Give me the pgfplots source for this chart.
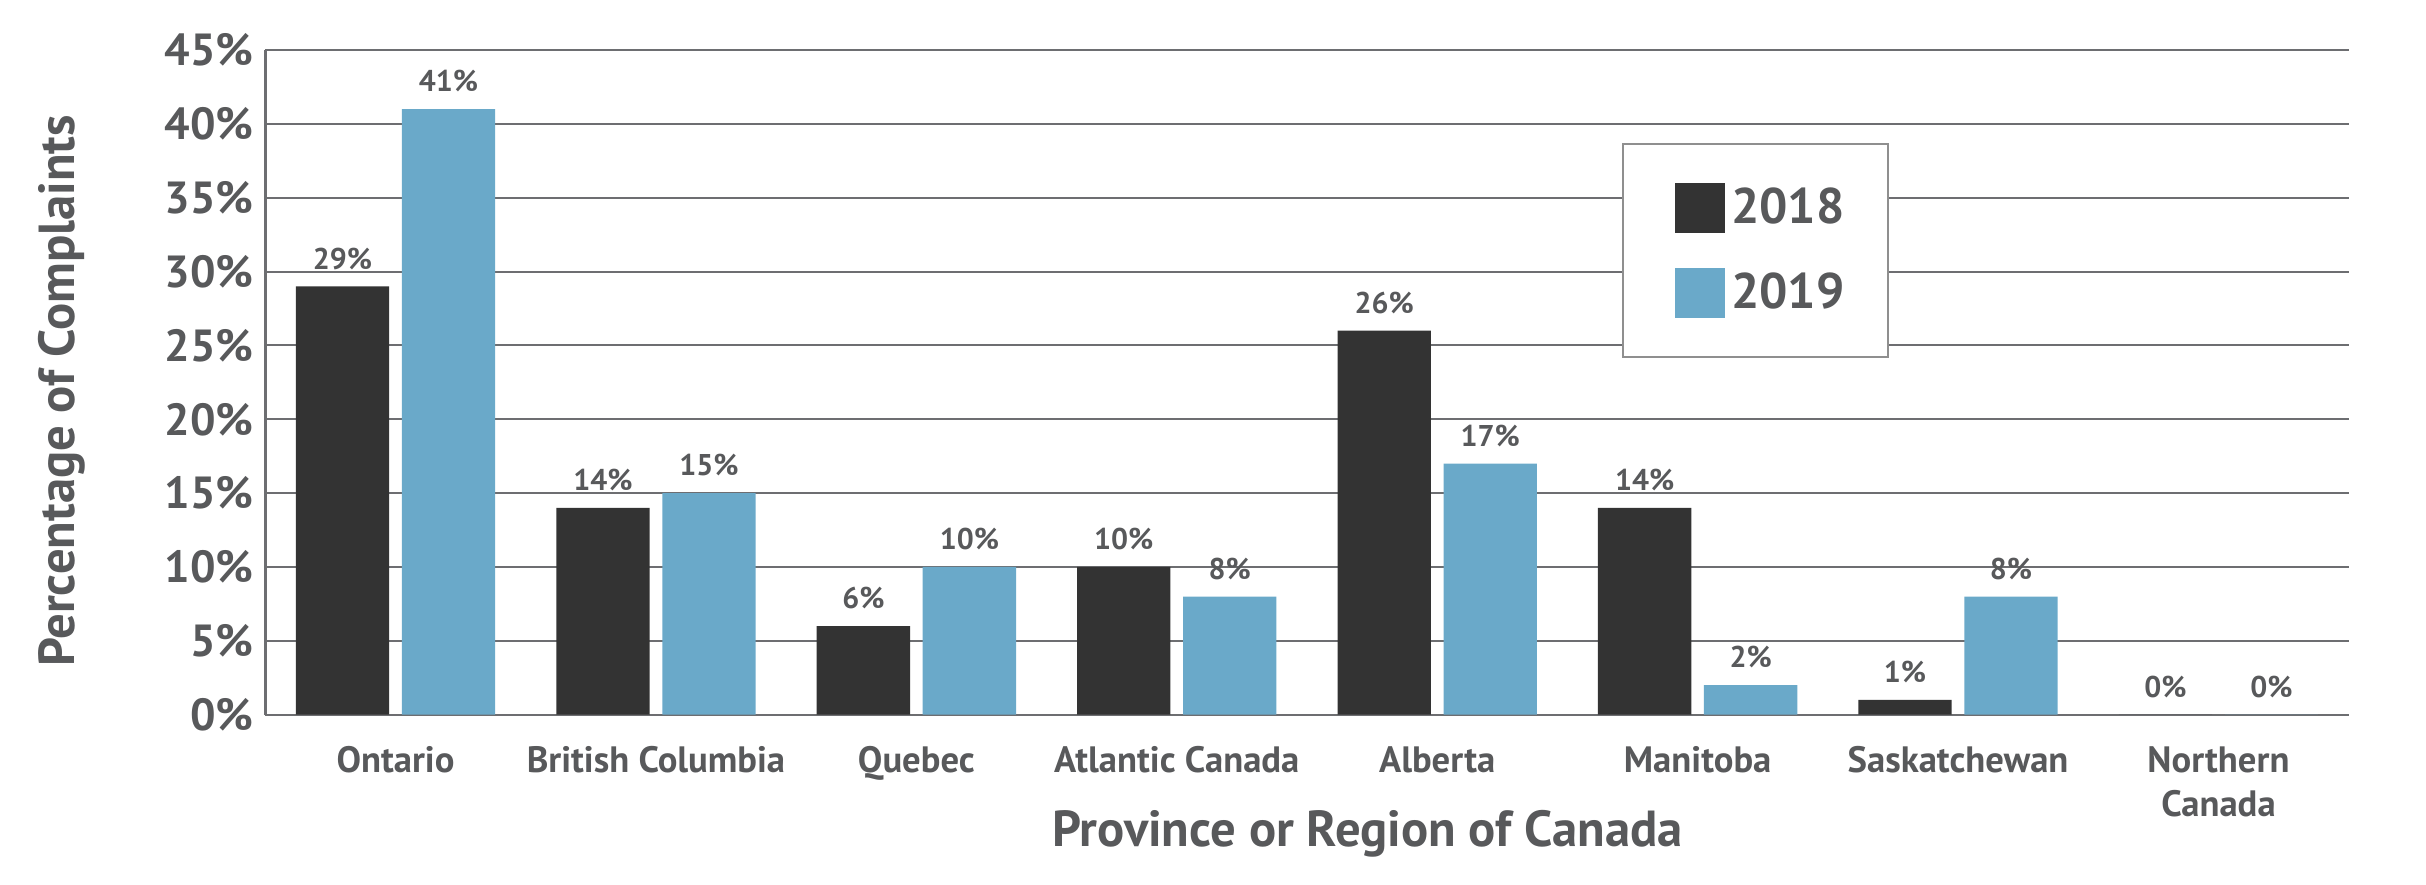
\documentclass[border=0pt]{standalone}
\usepackage{fontspec}
\setmainfont{PT Sans}
\usepackage{pgfplots}
\pgfplotsset{compat=1.18}
\definecolor{bar18}{HTML}{333333}
\definecolor{bar19}{HTML}{6AA9C9}
\definecolor{txt}{HTML}{58595B}
\definecolor{gridc}{HTML}{6D6E71}
\definecolor{legc}{HTML}{8F8F8F}

\begin{document}
\begin{tikzpicture}
\useasboundingbox (0,0) rectangle (727.8pt,265.2pt);
\begin{axis}[
    at={(79.6pt,50.8pt)}, anchor=south west,
    scale only axis, width=625pt, height=199.4pt,
    ybar=3.8pt, bar width=28pt,
    ymin=0, ymax=45, ytick={0,5,...,45},
    yticklabels={0\%,5\%,10\%,15\%,20\%,25\%,30\%,35\%,40\%,45\%},
    xmin=-0.5, xmax=7.5, xtick={0,...,7},
    xticklabels={Ontario, British Columbia, Quebec, Atlantic Canada, Alberta, Manitoba, Saskatchewan, {Northern\\Canada}},
    xticklabel style={align=center, font=\fontsize{11}{13.2}\selectfont\bfseries, text=txt, yshift=-6pt},
    yticklabel style={font=\fontsize{13.5}{13.5}\selectfont\bfseries, text=txt},
    major tick length=0pt,
    axis x line*=bottom, axis y line*=left,
    axis line style={gridc, line width=0.7pt, -},
    ymajorgrids, grid style={gridc, line width=0.6pt},
    /pgf/number format/assume math mode=true,
    nodes near coords={\pgfmathprintnumber{\pgfplotspointmeta}\%},
    every node near coord/.append style={font=\fontsize{9}{9}\selectfont\bfseries, text=txt, yshift=1.5pt},
    xlabel={Province or Region of Canada},
    xlabel style={at={(axis description cs:0.529,-0.1795)}, anchor=center, font=\fontsize{15.2}{15.2}\selectfont\bfseries, text=txt},
    ylabel={Percentage of Complaints},
    ylabel style={at={(axis description cs:-0.0976,0.487)}, anchor=center, font=\fontsize{15.2}{15.2}\selectfont\bfseries, text=txt},
    legend style={at={(0.651,0.860)}, anchor=north west, draw=legc, line width=0.6pt,
        inner xsep=11pt, inner ysep=11pt, row sep=9.5pt,
        font=\fontsize{15}{15}\selectfont\bfseries, text=txt},
    legend cell align=left,
    legend image code/.code={\path (0pt,0pt); \fill[#1] (4.6pt,-7.5pt) rectangle (19.6pt,7.5pt);},
]
\addplot[fill=bar18, draw=none] coordinates {(0,29) (1,14) (2,6) (3,10) (4,26) (5,14) (6,1) (7,0)};
\addplot[fill=bar19, draw=none] coordinates {(0,41) (1,15) (2,10) (3,8) (4,17) (5,2) (6,8) (7,0)};
\legend{\textbf{2018},\textbf{2019}}
\end{axis}
\end{tikzpicture}
\end{document}
